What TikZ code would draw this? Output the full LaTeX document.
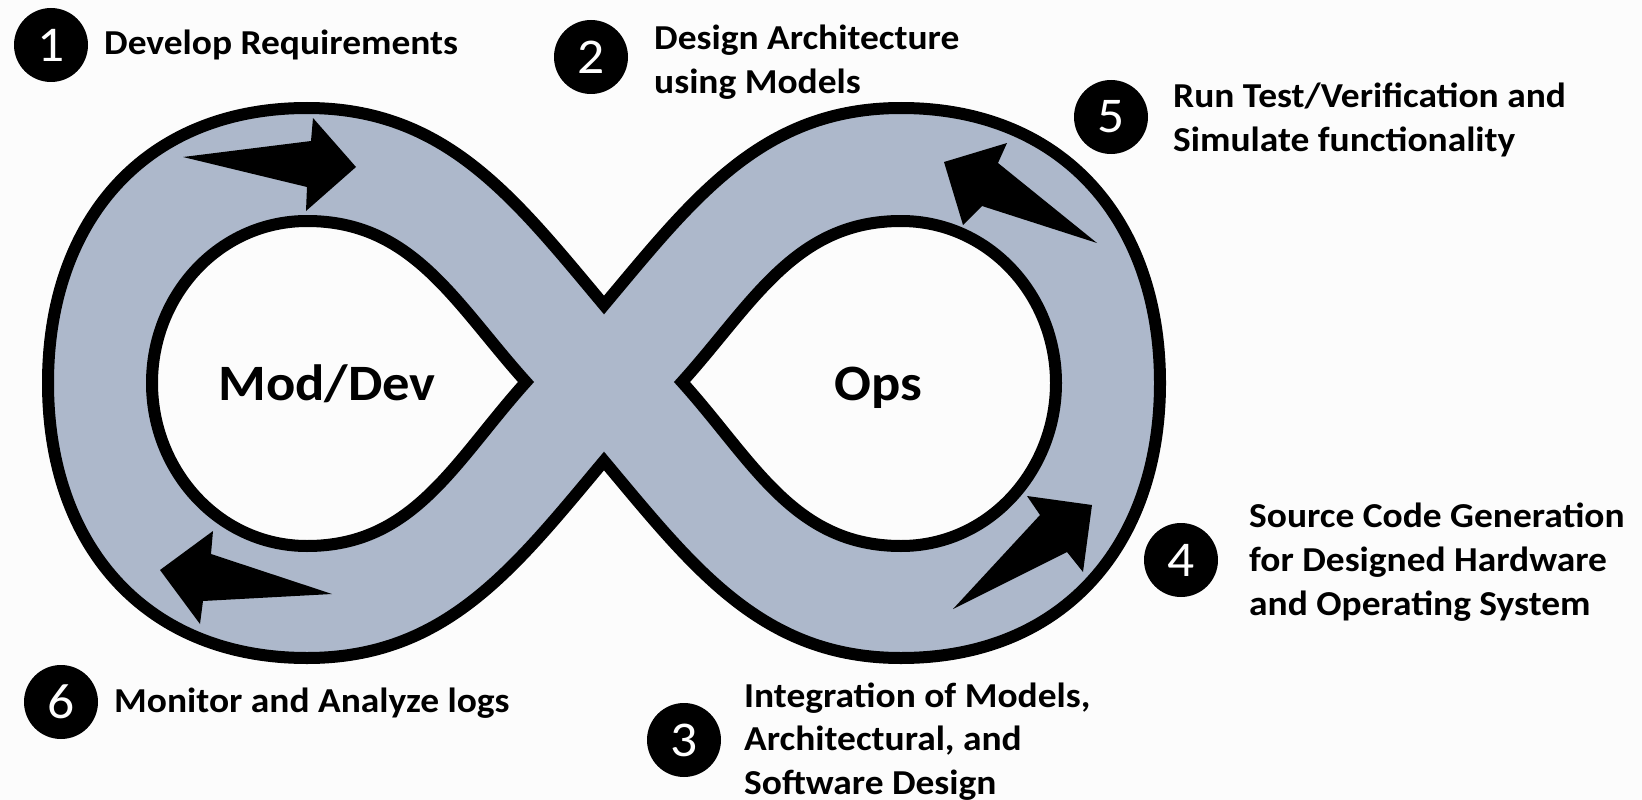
\documentclass[tikz,border=0pt]{standalone}
\usepackage{fontspec}
\setmainfont{Carlito}
\newfontfamily\labfont{Carlito}[FakeStretch=1.07]
\definecolor{bandfill}{RGB}{173,184,203}
\definecolor{bgcol}{RGB}{252,252,252}
\begin{document}
\begin{tikzpicture}[x=1pt,y=-1pt,
  bandline/.style={draw=black, line width=12pt, line join=miter, miter limit=10},
  flowarrow/.style={fill=black, draw=none},
  badge/.style={circle, fill=black, minimum size=74pt, inner sep=0pt, text=white,
    font=\labfont\fontsize{50}{50}\selectfont},
  steptext/.style={anchor=base west, inner sep=0pt,
    font=\labfont\bfseries\fontsize{35}{44}\selectfont},
  midtxt/.style={anchor=base, inner sep=0pt,
    font=\labfont\bfseries\fontsize{51}{51}\selectfont}]
\useasboundingbox (0,0) rectangle (1642,800);
\fill[bgcol] (0,0) rectangle (1642,800);

% infinity band: outer outline and two holes (angles measured on the page)
\path[bandline, fill=bandfill, even odd rule]
  (604,305) to[out=130,in=0] (307,108)
            to[out=180,in=90,looseness=1.1] (48,383)
            to[out=270,in=180,looseness=1.1] (307,658)
            to[out=0,in=230] (604,461)
            to[out=310,in=180] (901,658)
            to[out=0,in=270,looseness=1.1] (1160,383)
            to[out=90,in=0,looseness=1.1] (901,108)
            to[out=180,in=50] cycle
  (526,382) to[out=132,in=0] (307,221)
            to[out=180,in=90] (152,383)
            to[out=270,in=180] (307,546)
            to[out=0,in=228] cycle
  (682,382) to[out=312,in=180] (901,546)
            to[out=0,in=270] (1056,383)
            to[out=90,in=0] (901,221)
            to[out=180,in=48] cycle;

% flow arrows
\fill[flowarrow] (183,157) -- (311,141) -- (313,118) -- (356,167) -- (306,211) -- (307,187) -- cycle;
\fill[flowarrow] (1007,143) -- (998,163) -- (1097,243) -- (982,206) -- (963,225) -- (944,162) -- cycle;
\fill[flowarrow] (1092,505) -- (1083,572) -- (1067,552) -- (953,609) -- (1040,515) -- (1027,496) -- cycle;
\fill[flowarrow] (160,570) -- (213,531) -- (211,554) -- (332,594) -- (203,601) -- (200,624) -- cycle;

% centre labels
\node[midtxt] (md) at (327,400) {Mod/Dev};
\node[midtxt] (ops) at (878,400) {Ops};

% numbered badges
\node[badge] (b1) at (51,45) {1};
\node[badge] (b2) at (591,57) {2};
\node[badge] (b3) at (684,740) {3};
\node[badge] (b4) at (1181,560) {4};
\node[badge] (b5) at (1111,117) {5};
\node[badge] (b6) at (61,702) {6};

% step texts
\node[steptext] (t1) at (104,55) {Develop Requirements};
\node[steptext] (t2a) at (654,50) {Design Architecture};
\node[steptext] (t2b) at (654,94) {using Models};
\node[steptext] (t5a) at (1173,107) {Run Test/Verification and};
\node[steptext] (t5b) at (1173,151) {Simulate functionality};
\node[steptext] (t4a) at (1249,527) {Source Code Generation};
\node[steptext] (t4b) at (1249,571) {for Designed Hardware};
\node[steptext] (t4c) at (1249,615) {and Operating System};
\node[steptext] (t3a) at (744,707) {Integration of Models,};
\node[steptext] (t3b) at (744,750) {Architectural, and};
\node[steptext] (t3c) at (744,794) {Software Design};
\node[steptext] (t6) at (114,712) {Monitor and Analyze logs};
\end{tikzpicture}
\end{document}
